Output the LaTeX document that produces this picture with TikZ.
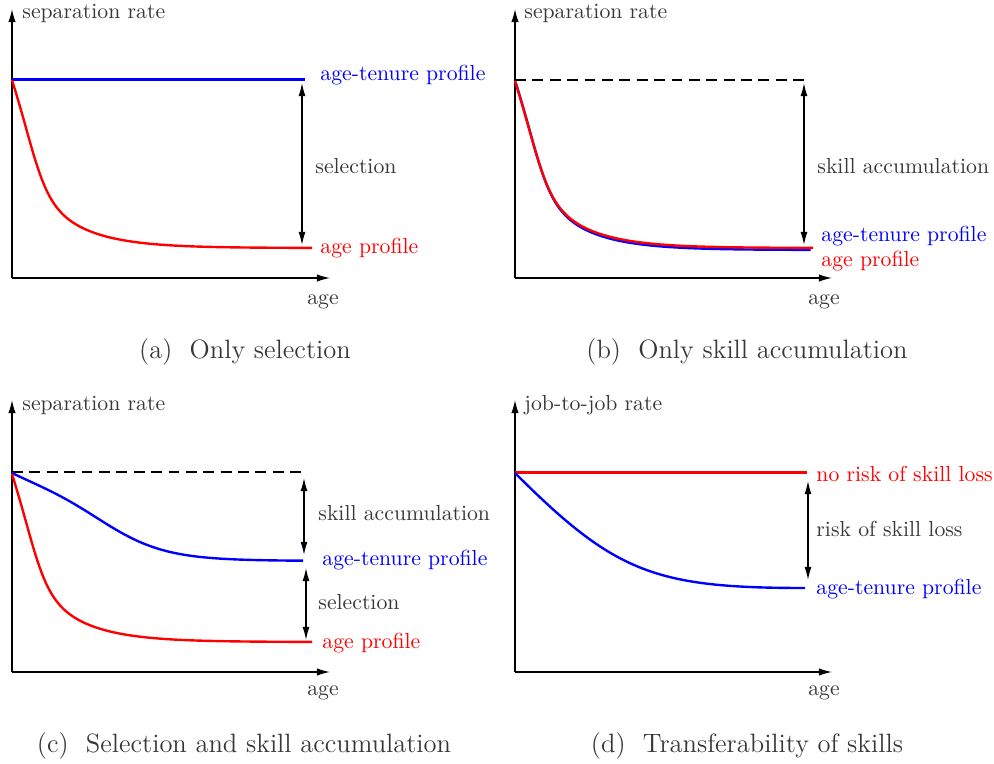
\documentclass[tikz,border=0pt]{standalone}
\usetikzlibrary{arrows.meta}
\definecolor{txt}{RGB}{55,55,55}
\definecolor{pblue}{RGB}{0,0,255}
\definecolor{pred}{RGB}{255,0,0}
\begin{document}
\begin{tikzpicture}[x=0.46pt,y=-0.46pt,
  declare function={fastf(\u)=0.58*exp(-\u/44)+0.42*1.1653/(1+exp(min((\u-18)/10,9)));
                    slowf(\u)=0.25*exp(-\u/60)+0.75*1.0601/(1+exp((\u-90)/32));},
  axis/.style={line width=0.6pt,-{Latex[length=6pt,width=3.4pt]}},
  gap/.style={line width=0.6pt,{Latex[length=6pt,width=3.2pt]}-{Latex[length=6pt,width=3.2pt]}},
  curve/.style={line width=1.1pt},
  guide/.style={line width=1.1pt,dash pattern=on 5pt off 3pt},
  lbl/.style={anchor=west,inner sep=0pt,text=txt,font=\fontsize{10}{12}\selectfont},
  clbl/.style={lbl,text=#1},
  axl/.style={anchor=center,inner sep=0pt,text=txt,font=\fontsize{10}{12}\selectfont},
  captxt/.style={anchor=center,inner sep=0pt,text=txt,font=\fontsize{12.2}{14}\selectfont}]
\useasboundingbox (0,0) rectangle (994,764);

% ===== Panel (a) =====
\coordinate (a0) at (12,278);
\coordinate (ay) at (12,9);
\coordinate (ax) at (330,278);
\draw[axis] (a0) -- (ay);
\draw[axis] (a0) -- (ax);
\node[lbl] (ayl) at (22,13) {separation rate};
\node[axl] (axl) at (323,302) {age};
\draw[curve,pblue] (12,79.5) -- (305,79.5);
\draw[curve,pred] plot[domain=0:300,samples=151,variable=\u] ({12+\u},{248-168*fastf(\u)});
\coordinate (aT) at (302,83);
\coordinate (aB) at (302,245);
\draw[gap] (aT) -- (aB);
\node[lbl] (asel) at (315,166) {selection};
\node[clbl=pblue] (aat) at (320,75) {age-tenure profile};
\node[clbl=pred] (aap) at (320,248) {age profile};
\node[captxt] (capa) at (245,352) {(a)\ \ Only selection};

% ===== Panel (b) =====
\coordinate (b0) at (515,278);
\coordinate (by) at (515,9);
\coordinate (bx) at (832,278);
\draw[axis] (b0) -- (by);
\draw[axis] (b0) -- (bx);
\node[lbl] (byl) at (524,13) {separation rate};
\node[axl] (bxl) at (824,302) {age};
\draw[guide] (515,80) -- (807,80);
\draw[curve,pblue] plot[domain=0:295,samples=151,variable=\u] ({515.5+\u},{250-168*fastf(\u)});
\draw[curve,pred] plot[domain=0:298,samples=151,variable=\u] ({515+\u},{248-167*fastf(\u)});
\coordinate (bT) at (804,83);
\coordinate (bB) at (804,245);
\draw[gap] (bT) -- (bB);
\node[lbl] (bsk) at (817,166) {skill accumulation};
\node[clbl=pblue] (bat) at (821,236) {age-tenure profile};
\node[clbl=pred] (bap) at (821,261) {age profile};
\node[captxt] (capb) at (747,352) {(b)\ \ Only skill accumulation};

% ===== Panel (c) =====
\coordinate (c0) at (12,672);
\coordinate (cy) at (12,400);
\coordinate (cx) at (330,672);
\draw[axis] (c0) -- (cy);
\draw[axis] (c0) -- (cx);
\node[lbl] (cyl) at (22,405) {separation rate};
\node[axl] (cxl) at (323,693) {age};
\draw[guide] (12,472) -- (305,472);
\draw[curve,pblue] plot[domain=0:291,samples=151,variable=\u] ({12+\u},{561-88*slowf(\u)});
\draw[curve,pred] plot[domain=0:300,samples=151,variable=\u] ({12+\u},{642-168*fastf(\u)});
\coordinate (cT1) at (304,478);
\coordinate (cB1) at (304,555);
\coordinate (cT2) at (306,568);
\coordinate (cB2) at (306,640);
\draw[gap] (cT1) -- (cB1);
\draw[gap] (cT2) -- (cB2);
\node[lbl] (csk) at (318,513) {skill accumulation};
\node[clbl=pblue] (cat) at (322,560) {age-tenure profile};
\node[lbl] (csel) at (318,602) {selection};
\node[clbl=pred] (cap) at (322,643) {age profile};
\node[captxt] (capc) at (244,746) {(c)\ \ Selection and skill accumulation};

% ===== Panel (d) =====
\coordinate (d0) at (515,672);
\coordinate (dy) at (515,400);
\coordinate (dx) at (832,672);
\draw[axis] (d0) -- (dy);
\draw[axis] (d0) -- (dx);
\node[lbl] (dyl) at (524,405) {job-to-job rate};
\node[axl] (dxl) at (824,693) {age};
\draw[curve,pred] (515,472.6) -- (807,472.6);
\coordinate (ds) at (515,473);
\coordinate (de) at (805,588);
\draw[curve,pblue] (ds) .. controls (615,573) and (655,588) .. (de);
\coordinate (dT) at (808,481);
\coordinate (dB) at (808,580);
\draw[gap] (dT) -- (dB);
\node[clbl=pred] (dno) at (816,474) {no risk of skill loss};
\node[lbl] (drisk) at (816,529) {risk of skill loss};
\node[clbl=pblue] (dat) at (816,589) {age-tenure profile};
\node[captxt] (capd) at (747,746) {(d)\ \ Transferability of skills};
\end{tikzpicture}
\end{document}
